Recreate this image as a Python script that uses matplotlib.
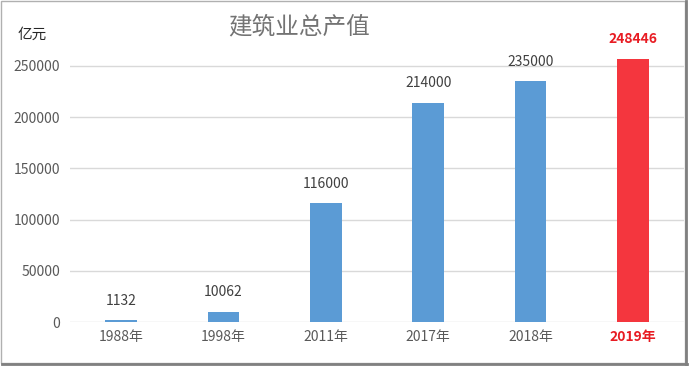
import matplotlib
matplotlib.use('Agg')
import matplotlib.pyplot as plt
from matplotlib.patches import Rectangle
from matplotlib.lines import Line2D

plt.rcParams['font.family'] = ['Noto Sans CJK SC', 'DejaVu Sans']

# Data
years = ['1988年', '1998年', '2011年', '2017年', '2018年', '2019年']
labels = ['1132', '10062', '116000', '214000', '235000', '248446']
# bar heights as drawn in the picture (the 2019 bar is drawn taller than its label)
heights = [1800, 10062, 116000, 214000, 235000, 257000]
yticks = [0, 50000, 100000, 150000, 200000, 250000]

W, H = 692, 370
fig = plt.figure(figsize=(W / 100, H / 100), dpi=100)

# Frame with a drop shadow, like the screenshot
fig.patches.append(Rectangle((1 / W, 7 / H), 684 / W, 362 / H, transform=fig.transFigure,
                             fill=False, edgecolor='#b0b0b0', lw=1))
fig.lines.append(Line2D([686 / W, 686 / W], [6 / H, 369 / H], transform=fig.transFigure,
                        color='#808080', lw=2))
fig.lines.append(Line2D([2 / W, 687 / W], [6 / H, 6 / H], transform=fig.transFigure,
                        color='#808080', lw=2))

ax = fig.add_axes([70 / W, 48 / H, 614 / W, 276.5 / H])
ax.set_xlim(-0.5, 5.5)
ax.set_ylim(0, 270000)

colors = ['#5b9bd5'] * 5 + ['#f4363e']
bars = ax.bar(range(len(years)), heights, width=0.31, color=colors, zorder=3)

for i, (b, lab) in enumerate(zip(bars, labels)):
    last = i == len(labels) - 1
    ax.annotate(lab, (b.get_x() + b.get_width() / 2, b.get_height()),
                xytext=(0, 9), textcoords='offset points', ha='center', va='bottom',
                fontsize=10, color='#e81c23' if last else '#404040',
                fontweight='bold' if last else 'normal')

ax.set_yticks(yticks)
ax.set_yticklabels([str(v) for v in yticks])
ax.set_xticks(range(len(years)))
ax.set_xticklabels(years)
ax.grid(axis='y', color='#d9d9d9', lw=1, zorder=0)
for s in ax.spines.values():
    s.set_visible(False)
ax.tick_params(axis='both', length=0, labelsize=10, labelcolor='#595959')
ax.tick_params(axis='y', pad=7)
ax.tick_params(axis='x', pad=6)
last_tick = ax.get_xticklabels()[-1]
last_tick.set_color('#e81c23')
last_tick.set_fontweight('bold')

fig.text(299 / W, 1 - 27 / H, '建筑业总产值', ha='center', va='center',
         fontsize=17, color='#737373')
fig.text(18 / W, 1 - 35 / H, '亿元', ha='left', va='center', fontsize=10.5, color='#262626')

fig.savefig('out.png', dpi=100, facecolor='white')
